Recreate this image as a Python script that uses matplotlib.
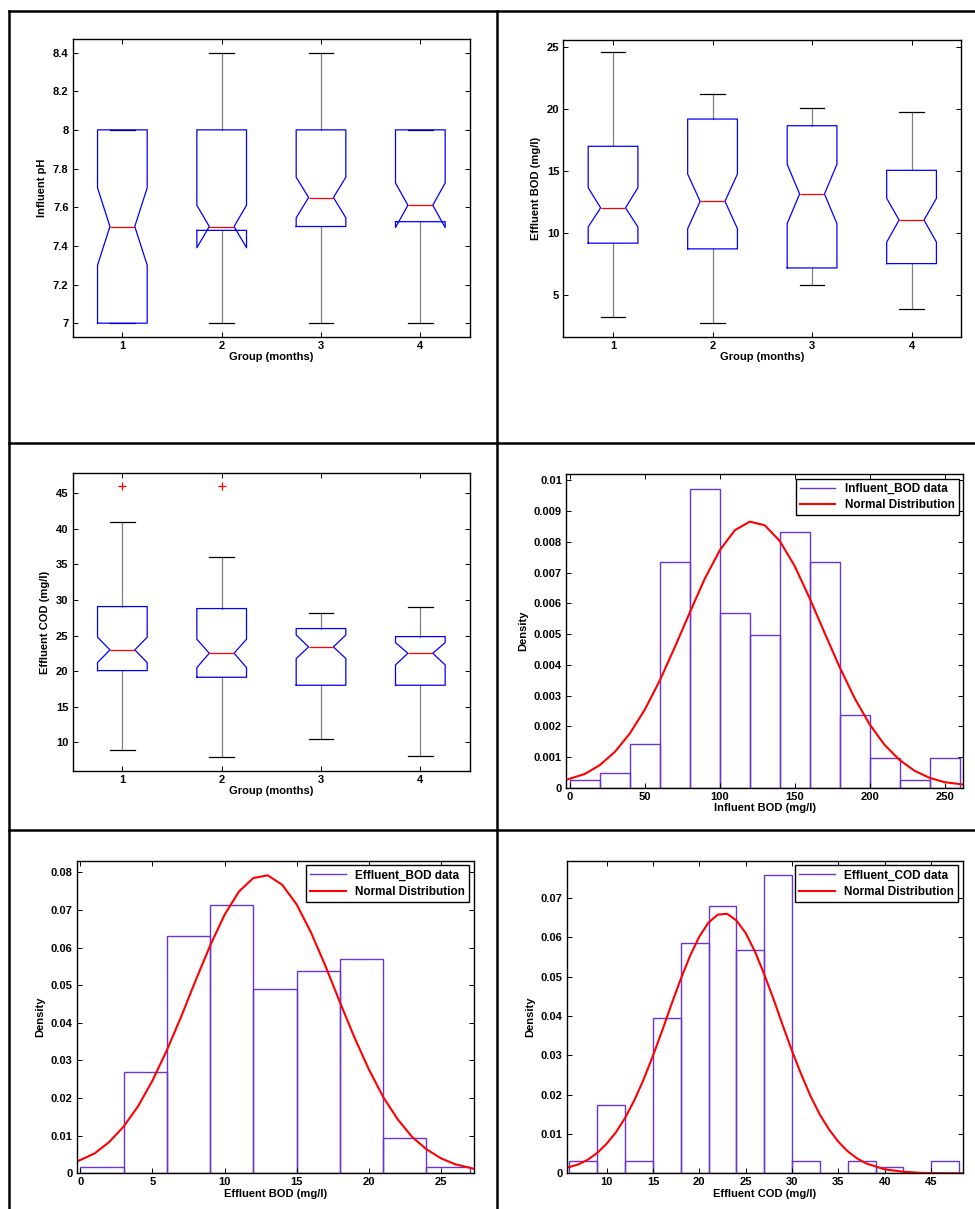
import numpy as np
import matplotlib
matplotlib.use('Agg')
import matplotlib.pyplot as plt
from matplotlib.lines import Line2D

plt.rcParams['font.family'] = ['Liberation Sans', 'DejaVu Sans']
plt.rcParams['font.weight'] = 'bold'
plt.rcParams['font.size'] = 8

# ---- box plot summaries ----
groups = [1, 2, 3, 4]
group_ticks = ['1', '2', '3', '4']

ph_q1 = [7.0, 7.48, 7.5, 7.525]
ph_med = [7.5, 7.5, 7.65, 7.61]
ph_q3 = [8.0, 8.0, 8.0, 8.0]
ph_cilo = [7.3, 7.39, 7.545, 7.495]
ph_cihi = [7.7, 7.61, 7.755, 7.725]
ph_lo = [7.0, 7.0, 7.0, 7.0]
ph_hi = [8.0, 8.4, 8.4, 8.0]
ph_out = [[], [], [], []]
ph_yticks = [7, 7.2, 7.4, 7.6, 7.8, 8, 8.2, 8.4]
ph_ylabels = ['7', '7.2', '7.4', '7.6', '7.8', '8', '8.2', '8.4']

ebod_q1 = [9.15, 8.69, 7.15, 7.5]
ebod_med = [12.0, 12.53, 13.12, 11.02]
ebod_q3 = [16.97, 19.17, 18.63, 15.03]
ebod_cilo = [10.46, 10.32, 10.73, 9.23]
ebod_cihi = [13.63, 14.73, 15.52, 12.77]
ebod_lo = [3.23, 2.72, 5.81, 3.82]
ebod_hi = [24.55, 21.21, 20.06, 19.73]
ebod_out = [[], [], [], []]
ebod_yticks = [5, 10, 15, 20, 25]

ecod_q1 = [20.07, 19.13, 18.01, 18.01]
ecod_med = [22.98, 22.51, 23.4, 22.51]
ecod_q3 = [29.07, 28.79, 25.98, 24.85]
ecod_cilo = [21.2, 20.49, 21.76, 20.87]
ecod_cihi = [24.76, 24.48, 25.08, 24.0]
ecod_lo = [8.96, 7.98, 10.42, 8.12]
ecod_hi = [41.02, 36.0, 28.18, 29.07]
ecod_out = [[46.0], [46.0], [], []]
ecod_yticks = [10, 15, 20, 25, 30, 35, 40, 45]

# ---- histograms (density) ----
ibod_edges = [0, 20, 40, 60, 80, 100, 120, 140, 160, 180, 200, 220, 240, 260]
ibod_dens = [0.00024, 0.00048, 0.00142, 0.00735, 0.00971, 0.00568, 0.00497,
             0.00831, 0.00735, 0.00238, 0.00096, 0.00024, 0.00096]
ibod_fit_x = [-3, 10, 20, 30, 40, 50, 60, 70, 80, 90, 100, 110, 120, 130, 140,
              150, 160, 170, 180, 190, 200, 210, 220, 230, 240, 250, 263]
ibod_fit_y = [0.00025, 0.00045, 0.00074, 0.00117, 0.00177, 0.00255, 0.0035,
              0.00458, 0.00571, 0.00681, 0.00773, 0.00838, 0.00866, 0.00854,
              0.00803, 0.00721, 0.00616, 0.00503, 0.00392, 0.00291, 0.00206,
              0.00139, 0.0009, 0.00055, 0.00032, 0.00018, 0.0001]
ibod_xticks = [0, 50, 100, 150, 200, 250]
ibod_yticks = [0, 0.001, 0.002, 0.003, 0.004, 0.005, 0.006, 0.007, 0.008, 0.009, 0.01]
ibod_ylabels = ['0', '0.001', '0.002', '0.003', '0.004', '0.005', '0.006',
                '0.007', '0.008', '0.009', '0.01']

ebh_edges = [0, 3, 6, 9, 12, 15, 18, 21, 24, 27]
ebh_dens = [0.00177, 0.027, 0.0632, 0.0712, 0.0491, 0.0537, 0.0569, 0.0095, 0.00177]
ebh_fit_x = [-0.3, 1, 2, 3, 4, 5, 6, 7, 8, 9, 10, 11, 12, 13, 14, 15, 16, 17,
             18, 19, 20, 21, 22, 23, 24, 25, 26, 27.3]
ebh_fit_y = [0.0030, 0.0053, 0.0083, 0.0124, 0.0178, 0.0246, 0.0327, 0.0417,
             0.0513, 0.0605, 0.0687, 0.0749, 0.0785, 0.0792, 0.0767, 0.0715,
             0.064, 0.0551, 0.0455, 0.0362, 0.0277, 0.0203, 0.0144, 0.0097,
             0.0064, 0.004, 0.0024, 0.0012]
ebh_xticks = [0, 5, 10, 15, 20, 25]
ebh_yticks = [0, 0.01, 0.02, 0.03, 0.04, 0.05, 0.06, 0.07, 0.08]
ebh_ylabels = ['0', '0.01', '0.02', '0.03', '0.04', '0.05', '0.06', '0.07', '0.08']

ech_edges = [6, 9, 12, 15, 18, 21, 24, 27, 30, 33, 36, 39, 42, 45, 48]
ech_dens = [0.0032, 0.01746, 0.0032, 0.0396, 0.0586, 0.0679, 0.0569, 0.0758,
            0.0032, 0.0, 0.0032, 0.0016, 0.0, 0.0032]
ech_fit_x = [5.7, 7, 8, 9, 10, 11, 12, 13, 14, 15, 16, 17, 18, 19, 20, 21, 22,
             23, 24, 25, 26, 27, 28, 29, 30, 31, 32, 33, 34, 35, 36, 37, 38,
             40, 42, 44, 46, 48.4]
ech_fit_y = [0.0014, 0.0023, 0.0035, 0.0052, 0.0075, 0.0104, 0.0141, 0.0186,
             0.0239, 0.0299, 0.0363, 0.0430, 0.0494, 0.0553, 0.0602, 0.0638,
             0.0658, 0.066, 0.0643, 0.0611, 0.0564, 0.0506, 0.0443, 0.0376,
             0.0311, 0.0251, 0.0196, 0.0149, 0.0111, 0.008, 0.0056, 0.0038,
             0.0025, 0.001, 0.0004, 0.0001, 0.00003, 0.0]
ech_xticks = [10, 15, 20, 25, 30, 35, 40, 45]
ech_yticks = [0, 0.01, 0.02, 0.03, 0.04, 0.05, 0.06, 0.07]
ech_ylabels = ['0', '0.01', '0.02', '0.03', '0.04', '0.05', '0.06', '0.07']

W, H = 975, 1209
fig = plt.figure(figsize=(W / 100, H / 100), dpi=100)


def rect(l, t, r, b):
    return [l / W, 1 - b / H, (r - l) / W, (b - t) / H]


def style(ax):
    ax.tick_params(direction='in', top=True, right=True, length=3.5, width=0.7,
                   labelsize=8, pad=3)
    for s in ax.spines.values():
        s.set_linewidth(1.0)


def boxpanel(ax, q1, med, q3, cilo, cihi, lo, hi, out, ylim, yticks, ylabels, ylabel):
    stats = []
    for i in range(len(groups)):
        stats.append(dict(q1=q1[i], med=med[i], q3=q3[i], cilo=cilo[i], cihi=cihi[i],
                          whislo=lo[i], whishi=hi[i], fliers=out[i]))
    ax.bxp(stats, positions=groups, widths=0.5, shownotches=True,
           boxprops=dict(color='blue', linewidth=0.9, zorder=2.3),
           medianprops=dict(color='red', linewidth=0.9, zorder=2.4),
           whiskerprops=dict(color='0.5', linewidth=0.9, linestyle='-', zorder=2.0),
           capprops=dict(color='black', linewidth=0.9, zorder=2.1),
           flierprops=dict(marker='+', markeredgecolor='red', markersize=6,
                           markeredgewidth=0.9))
    ax.set_xlim(0.5, 4.5)
    ax.set_ylim(*ylim)
    ax.set_xticks(groups, group_ticks)
    ax.set_yticks(yticks, ylabels)
    ax.set_xlabel('Group (months)', fontsize=8, fontweight='bold', labelpad=1)
    ax.set_ylabel(ylabel, fontsize=8, fontweight='bold', labelpad=4)
    style(ax)


def histpanel(ax, edges, dens, fx, fy, xlim, ylim, xticks, yticks, ylabels, xlabel, name):
    purple = '#6a35d0'
    ax.bar(edges[:-1], dens, width=np.diff(edges), align='edge', fill=False,
           edgecolor=purple, linewidth=1.0)
    line, = ax.plot(fx, fy, color='red', linewidth=1.5)
    ax.set_xlim(*xlim)
    ax.set_ylim(*ylim)
    ax.set_xticks(xticks, [str(t) for t in xticks])
    ax.set_yticks(yticks, ylabels)
    ax.set_xlabel(xlabel, fontsize=8, fontweight='bold', labelpad=1)
    ax.set_ylabel('Density', fontsize=8, fontweight='bold', labelpad=4)
    handles = [Line2D([], [], color=purple, linewidth=1.0), line]
    leg = ax.legend(handles, [name + ' data', 'Normal Distribution'], loc='upper right',
                    fancybox=False, framealpha=1, edgecolor='black',
                    prop=dict(size=8.5, weight='bold'), borderaxespad=0.4,
                    handlelength=3.0, borderpad=0.35, labelspacing=0.35)
    leg.get_frame().set_linewidth(1.0)
    style(ax)


ax1 = fig.add_axes(rect(72.7, 39, 470, 336.7))
boxpanel(ax1, ph_q1, ph_med, ph_q3, ph_cilo, ph_cihi, ph_lo, ph_hi, ph_out,
         (6.93, 8.47), ph_yticks, ph_ylabels, 'Influent pH')

ax2 = fig.add_axes(rect(563.3, 40, 961.3, 336.7))
boxpanel(ax2, ebod_q1, ebod_med, ebod_q3, ebod_cilo, ebod_cihi, ebod_lo, ebod_hi,
         ebod_out, (1.6, 25.55), ebod_yticks, [str(t) for t in ebod_yticks],
         'Effluent BOD (mg/l)')

ax3 = fig.add_axes(rect(72.7, 473.3, 470, 770.7))
boxpanel(ax3, ecod_q1, ecod_med, ecod_q3, ecod_cilo, ecod_cihi, ecod_lo, ecod_hi,
         ecod_out, (6.0, 47.8), ecod_yticks, [str(t) for t in ecod_yticks],
         'Effluent COD (mg/l)')

ax4 = fig.add_axes(rect(566, 474.3, 963.3, 787.7))
histpanel(ax4, ibod_edges, ibod_dens, ibod_fit_x, ibod_fit_y, (-2.7, 262.5),
          (0, 0.0102), ibod_xticks, ibod_yticks, ibod_ylabels,
          'Influent BOD (mg/l)', 'Influent_BOD')

ax5 = fig.add_axes(rect(76.7, 860.7, 474, 1173.3))
histpanel(ax5, ebh_edges, ebh_dens, ebh_fit_x, ebh_fit_y, (-0.25, 27.3),
          (0, 0.0831), ebh_xticks, ebh_yticks, ebh_ylabels,
          'Effluent BOD (mg/l)', 'Effluent_BOD')

ax6 = fig.add_axes(rect(566.7, 860.7, 962.7, 1173.3))
histpanel(ax6, ech_edges, ech_dens, ech_fit_x, ech_fit_y, (5.7, 48.4),
          (0, 0.0795), ech_xticks, ech_yticks, ech_ylabels,
          'Effluent COD (mg/l)', 'Effluent_COD')

# table borders around the panels
lw = 1.8
for y in [11, 443, 829.5]:
    fig.add_artist(Line2D([9 / W, 1], [1 - y / H, 1 - y / H], color='black', linewidth=lw))
for x in [9, 496.7]:
    fig.add_artist(Line2D([x / W, x / W], [1 - 11 / H, 0], color='black', linewidth=lw))

fig.savefig('out.png', dpi=100)
